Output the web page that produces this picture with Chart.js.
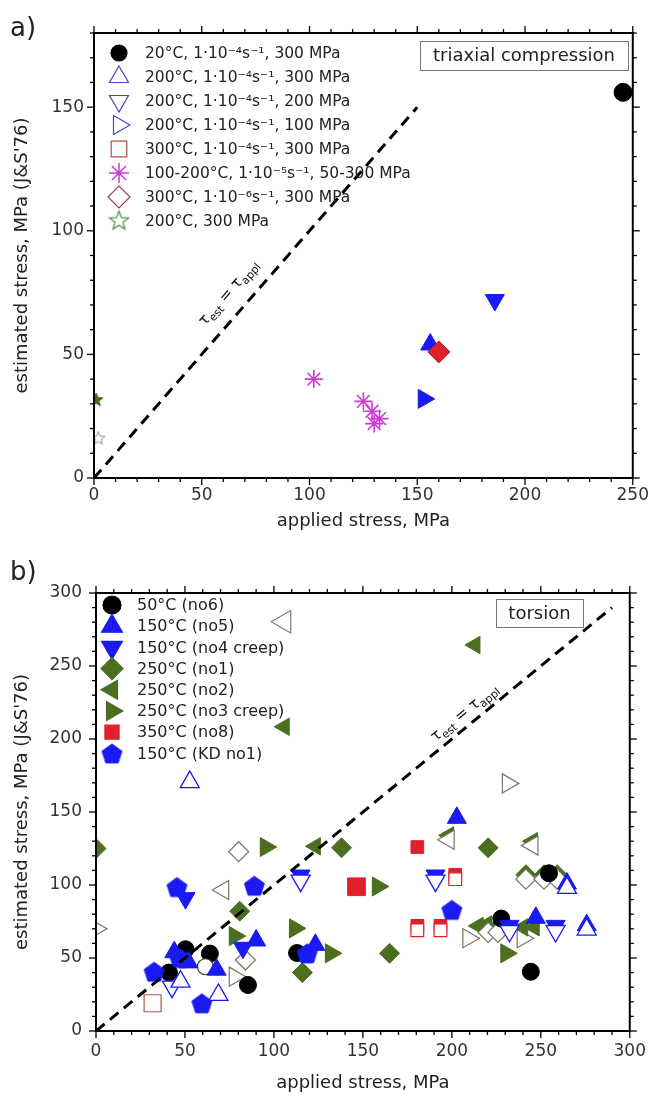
<!DOCTYPE html>
<html><head><meta charset="utf-8">
<script src="https://cdn.jsdelivr.net/npm/chart.js@4.4.1/dist/chart.umd.min.js"></script>
<style>
html,body{margin:0;padding:0;background:#fff;}
#wrap{position:relative;width:656px;height:1099px;background:#fff;}
canvas{position:absolute;left:0;}
</style></head><body>
<div id="wrap">
<canvas id="ca" width="656" height="550" style="top:0"></canvas>
<canvas id="cb" width="656" height="549" style="top:550px"></canvas>
</div>
<script>
// ---------------- DATA: panel a) triaxial compression ----------------
const aCircle20     = [[245.5,156]];
const aTriUp200     = [[156,54]];
const aTriDown200   = [[186,72]];
const aTriRight200  = [[153,32]];
const aDiamond300   = [[160,51]];
const aAsterisk     = [[102,40],[125,31],[129,27],[132.5,24],[130,22]];
const aStarFilled   = [[1,31.5]];
const aStarOpen     = [[2,16]];
const aIdentity     = [0,150];
const aLegendLabels = [
  '20°C, 1·10⁻⁴s⁻¹, 300 MPa',
  '200°C, 1·10⁻⁴s⁻¹, 300 MPa',
  '200°C, 1·10⁻⁴s⁻¹, 200 MPa',
  '200°C, 1·10⁻⁴s⁻¹, 100 MPa',
  '300°C, 1·10⁻⁴s⁻¹, 300 MPa',
  '100-200°C, 1·10⁻⁵s⁻¹, 50-300 MPa',
  '300°C, 1·10⁻⁶s⁻¹, 300 MPa',
  '200°C, 300 MPa'
];

// ---------------- DATA: panel b) torsion ----------------
const b50Filled   = [[64,53],[50.3,56],[41,40],[85.4,31.5],[113,53.4],[227.8,77],[244.4,40.6],[254.6,108]];
const b50Open     = [[61.5,44]];
const bNo5Filled  = [[202.8,146],[90,62],[67.8,42],[44,54],[52,47],[123.3,59],[247.2,77.5],[264.7,101],[275.8,72.5]];
const bNo5Open    = [[52.7,170.5],[68.8,24.7],[47.5,33.8],[264.7,98],[275.8,69.5]];
const bNo4Filled  = [[50.3,91],[82.6,57],[115,106.5],[190.8,106.5],[232.4,72],[258.3,72]];
const bNo4Open    = [[42.7,30.4],[115,103],[190.8,103],[232.4,68.5],[258.3,68.5]];
const bNo1Filled  = [[0,125],[80.8,82],[138,125.5],[220.4,125.5],[116,40],[165,53.2],[241.6,107],[251.8,107],[259.2,107],[220.4,70.5],[225.9,70.5]];
const bNo1Open    = [[80.2,122.8],[84,48.6],[241.6,104],[251.8,104],[259.2,104],[220.4,67.5],[225.9,67.5]];
const bNo2Filled  = [[105.8,208.4],[213,264.4],[123.3,126.5],[198.2,134],[245.3,130],[214.8,72],[219.5,73],[239.8,71],[246.3,71]];
const bNo2OpenBig = [[105.8,280.3]];
const bNo2Open    = [[71.5,96.6],[198.2,131],[245.3,127]];
const bNo3Filled  = [[95.4,126],[78,65],[111.8,70.3],[158.4,99],[132,53.2],[230.6,53.2]];
const bNo3Open    = [[231.5,169.6],[0,70],[78,37.2],[209.3,63.5],[239.8,63.5]];
const bNo8Big     = [[146.4,98.8]];
const bNo8Filled  = [[180.6,126],[201.9,107],[180.6,72],[193.6,72]];
const bNo8OpenBig = [[31.8,19]];
const bNo8Open    = [[201.9,104],[180.6,69],[193.6,69]];
const bKDFilled   = [[45.5,98.6],[89,99.5],[200,83],[32.7,40.6],[59.5,19],[118.7,53.2],[47,50]];
const bIdentity   = [0,290];
const bLegendLabels = ['50°C (no6)','150°C (no5)','150°C (no4 creep)','250°C (no1)','250°C (no2)','250°C (no3 creep)','350°C (no8)','150°C (KD no1)'];

const X_TITLE = 'applied stress, MPa';
const Y_TITLE = "estimated stress, MPa (J&S'76)";

// ---------------- STYLE ----------------
const FONT = "'DejaVu Sans', Verdana, sans-serif";
const BLUE = '#1a1af2', OLIVE = '#4b6e1f', RED = '#e0202a', MAG = '#cc3ad8';
const pts = a => a.map(p => ({x: p[0], y: p[1]}));
const line2 = r => [{x: r[0], y: r[0]}, {x: r[1], y: r[1]}];

function makeStar(r, fill, stroke, lw) {
  const s = Math.ceil(2 * r + 2 * lw + 2);
  const c = document.createElement('canvas'); c.width = c.height = s;
  const g = c.getContext('2d'); g.translate(s / 2, s / 2);
  g.beginPath();
  for (let i = 0; i < 10; i++) {
    const rr = i % 2 ? r * 0.42 : r, a = -Math.PI / 2 + i * Math.PI / 5;
    g.lineTo(rr * Math.cos(a), rr * Math.sin(a));
  }
  g.closePath(); g.fillStyle = fill; g.fill(); g.lineWidth = lw; g.strokeStyle = stroke; g.stroke();
  return c;
}
function makePentagon(r, fill, stroke, lw) {
  const s = Math.ceil(2 * r + 2 * lw + 2);
  const c = document.createElement('canvas'); c.width = c.height = s;
  const g = c.getContext('2d'); g.translate(s / 2, s / 2 + 1);
  g.beginPath();
  for (let i = 0; i < 5; i++) {
    const a = -Math.PI / 2 + i * 2 * Math.PI / 5;
    g.lineTo(r * Math.cos(a), r * Math.sin(a));
  }
  g.closePath(); g.fillStyle = fill; g.fill(); g.lineWidth = lw; g.strokeStyle = stroke; g.stroke();
  return c;
}

function mk(data, style, r, fill, stroke, bw, rot) {
  return {type: 'scatter', data: pts(data), pointStyle: style, pointRadius: r, pointHoverRadius: r,
    pointBackgroundColor: fill, pointBorderColor: stroke, pointBorderWidth: bw, pointRotation: rot || 0,
    clip: 0, showLine: false};
}
function identityDs(r) {
  return {type: 'line', data: line2(r), borderColor: '#000', borderWidth: 3, borderDash: [11, 7],
    pointRadius: 0, fill: false, clip: 0};
}
function ordered(list) { list.forEach((d, i) => d.order = -i); return list; }

function scales(xMax, yMax, yW, xH, xTitlePad, yTitlePad, yPad, xPad) {
  const tickFont = {family: FONT, size: 17};
  const titleFont = {family: FONT, size: 18};
  return {
    x: {type: 'linear', min: 0, max: xMax, grid: {display: false, drawTicks: false}, border: {display: false},
      ticks: {stepSize: 50, includeBounds: false, padding: xPad, color: '#333', font: tickFont, maxRotation: 0, autoSkip: false},
      title: {display: true, text: X_TITLE, color: '#222', font: titleFont, padding: {top: xTitlePad, bottom: xTitlePad}},
      afterFit(s) { s.height = xH; }},
    y: {type: 'linear', min: 0, max: yMax, grid: {display: false, drawTicks: false}, border: {display: false},
      ticks: {stepSize: 50, includeBounds: false, padding: yPad, color: '#333', font: tickFont, autoSkip: false},
      title: {display: true, text: Y_TITLE, color: '#222', font: titleFont, padding: {top: yTitlePad, bottom: yTitlePad}},
      afterFit(s) { s.width = yW; }}
  };
}

function drawTau(ctx, cx, cy, ang, size) {
  const big = size + 'px ' + FONT, small = Math.round(size * 0.72) + 'px ' + FONT;
  const parts = [['τ', big, 0], ['est', small, size * 0.32], [' = ', big, 0], ['τ', big, 0], ['appl', small, size * 0.32]];
  ctx.save(); ctx.translate(cx, cy); ctx.rotate(ang);
  let w = 0;
  parts.forEach(p => { ctx.font = p[1]; p.w = ctx.measureText(p[0]).width; w += p.w; });
  let x = -w / 2; ctx.fillStyle = '#111'; ctx.textBaseline = 'middle';
  parts.forEach(p => { ctx.font = p[1]; ctx.fillText(p[0], x, p[2]); x += p.w; });
  ctx.restore();
}

function decor(cfg) {
  return {
    id: 'decor',
    afterDraw(chart) {
      const {ctx, chartArea: ca} = chart; const xs = chart.scales.x, ys = chart.scales.y;
      ctx.save();
      // identity label
      const a = Math.atan2(ys.getPixelForValue(1) - ys.getPixelForValue(0), xs.getPixelForValue(1) - xs.getPixelForValue(0));
      const px = xs.getPixelForValue(cfg.tauAt), py = ys.getPixelForValue(cfg.tauAt);
      drawTau(ctx, px + Math.sin(a) * cfg.tauOff, py - Math.cos(a) * cfg.tauOff, a, 15.5);
      // frame + ticks
      ctx.strokeStyle = '#000'; ctx.lineWidth = 2;
      ctx.strokeRect(ca.left, ca.top, ca.right - ca.left, ca.bottom - ca.top);
      ctx.lineWidth = 1.3;
      const seg = (x1, y1, x2, y2) => { ctx.beginPath(); ctx.moveTo(x1, y1); ctx.lineTo(x2, y2); ctx.stroke(); };
      for (let v = xs.min; v <= xs.max + 1e-6; v += 10) {
        const p = xs.getPixelForValue(v), L = (Math.abs(v % 50) < 1e-6) ? 7 : 4;
        seg(p, ca.bottom, p, ca.bottom + L); seg(p, ca.top, p, ca.top - L);
      }
      for (let v = ys.min; v <= ys.max + 1e-6; v += 10) {
        const p = ys.getPixelForValue(v), L = (Math.abs(v % 50) < 1e-6) ? 7 : 4;
        seg(ca.left, p, ca.left - L, p); seg(ca.right, p, ca.right + L, p);
      }
      // legend
      const H = Chart.helpers;
      ctx.textBaseline = 'middle'; ctx.textAlign = 'left';
      cfg.legend.forEach((it, i) => {
        const y = cfg.legY + i * cfg.legDy;
        ctx.save();
        ctx.fillStyle = it.fill; ctx.strokeStyle = it.stroke; ctx.lineWidth = it.bw || 1.2;
        H.drawPoint(ctx, {pointStyle: it.style, rotation: it.rot || 0, radius: it.r, borderWidth: it.bw || 1.2}, cfg.legX, y);
        ctx.restore();
        ctx.fillStyle = '#222'; ctx.font = cfg.legFont + 'px ' + FONT;
        ctx.fillText(cfg.labels[i], cfg.legTx, y + 1);
      });
      // box label
      const b = cfg.box;
      ctx.font = '18px ' + FONT; ctx.textAlign = 'center';
      ctx.fillStyle = '#fff'; ctx.fillRect(b.x, b.y, b.w, b.h);
      ctx.strokeStyle = '#777'; ctx.lineWidth = 1; ctx.strokeRect(b.x + 0.5, b.y + 0.5, b.w, b.h);
      ctx.fillStyle = '#222'; ctx.fillText(b.text, b.x + b.w / 2, b.y + b.h / 2 + 1);
      // panel letter
      ctx.textAlign = 'left'; ctx.textBaseline = 'alphabetic'; ctx.font = '26px ' + FONT; ctx.fillStyle = '#222';
      ctx.fillText(cfg.panel, cfg.panelX, cfg.panelY);
      ctx.restore();
    }
  };
}

const common = {responsive: false, animation: false, devicePixelRatio: 1,
  plugins: {legend: {display: false}, tooltip: {enabled: false}}};

// ---------------- CHART a ----------------
const aStarImgF = makeStar(7, OLIVE, '#3c5a18', 1);
const aStarImgO = makeStar(7, '#fff', '#8a968a', 1);
const aStarLeg  = makeStar(10, '#fff', '#4c8a4c', 1.2);
new Chart(document.getElementById('ca'), {
  type: 'scatter',
  data: {datasets: ordered([
    mk(aAsterisk, 'star', 9, MAG, MAG, 1.6),
    mk(aTriRight200, 'triangle', 11, BLUE, BLUE, 1, 90),
    mk(aTriUp200, 'triangle', 11, BLUE, BLUE, 1, 0),
    mk(aDiamond300, 'rectRot', 11, RED, '#b01818', 1),
    mk(aTriDown200, 'triangle', 11, BLUE, BLUE, 1, 180),
    mk(aCircle20, 'circle', 9, '#000', '#000', 1),
    mk(aStarFilled, aStarImgF, 7, OLIVE, OLIVE, 1),
    mk(aStarOpen, aStarImgO, 7, '#fff', '#888', 1),
    identityDs(aIdentity)
  ])},
  options: Object.assign({}, common, {
    layout: {padding: {top: 33, right: 19, left: 0, bottom: 0}},
    scales: scales(250, 180, 94, 72, 18, 12, 10, 7)
  }),
  plugins: [decor({
    tauAt: 69.5, tauOff: 20, legend: [
      {style: 'circle', r: 8, fill: '#000', stroke: '#000'},
      {style: 'triangle', r: 11, fill: '#fff', stroke: '#4848c8'},
      {style: 'triangle', r: 11, fill: '#fff', stroke: '#4848c8', rot: 180},
      {style: 'triangle', r: 11, fill: '#fff', stroke: '#4848c8', rot: 90},
      {style: 'rect', r: 11, fill: '#fff', stroke: '#b84a4a'},
      {style: 'star', r: 10, fill: MAG, stroke: MAG, bw: 1.5},
      {style: 'rectRot', r: 11, fill: '#fff', stroke: '#9a4444'},
      {style: aStarLeg, r: 10, fill: '#fff', stroke: '#4c8a4c'}
    ], labels: aLegendLabels, legX: 119, legTx: 145, legY: 53, legDy: 24, legFont: 15.5,
    box: {x: 420, y: 41, w: 208, h: 29, text: 'triaxial compression'},
    panel: 'a)', panelX: 10, panelY: 36
  })]
});

// ---------------- CHART b ----------------
const bPent = makePentagon(10.5, BLUE, BLUE, 1);
const bPentLeg = makePentagon(10.5, BLUE, BLUE, 1);
const GREY = '#7d7d7d', GOLIVE = '#6e7a62';
new Chart(document.getElementById('cb'), {
  type: 'scatter',
  data: {datasets: ordered([
    mk(bNo2OpenBig, 'triangle', 13, '#fff', GREY, 1.2, 270),
    mk(bNo3Open, 'triangle', 11, '#fff', GOLIVE, 1.2, 90),
    mk(bNo1Filled, 'rectRot', 10, OLIVE, OLIVE, 1),
    mk(bNo3Filled, 'triangle', 11, OLIVE, OLIVE, 1, 90),
    mk(bNo2Filled, 'triangle', 10, OLIVE, OLIVE, 1, 270),
    mk(bNo1Open, 'rectRot', 10, '#fff', GOLIVE, 1.2),
    mk(bNo2Open, 'triangle', 11, '#fff', GOLIVE, 1.2, 270),
    mk(bNo8Big, 'rect', 12.5, RED, RED, 1),
    mk(bNo8Filled, 'rect', 9, RED, RED, 1),
    mk(bNo8OpenBig, 'rect', 12, '#fff', '#c05050', 1.2),
    mk(bNo8Open, 'rect', 9, '#fff', RED, 1.2),
    mk(b50Filled, 'circle', 8.5, '#000', '#000', 1),
    mk(b50Open, 'circle', 8, '#fff', '#333', 1.2),
    mk(bKDFilled, bPent, 10.5, BLUE, BLUE, 1),
    mk(bNo4Filled, 'triangle', 11, BLUE, BLUE, 1, 180),
    mk(bNo4Open, 'triangle', 11, '#fff', BLUE, 1.3, 180),
    mk(bNo5Filled, 'triangle', 11, BLUE, BLUE, 1, 0),
    mk(bNo5Open, 'triangle', 11, '#fff', BLUE, 1.3, 0),
    identityDs(bIdentity)
  ])},
  options: Object.assign({}, common, {
    layout: {padding: {top: 43, right: 19, left: 0, bottom: 0}},
    scales: scales(300, 300, 96, 68, 5, 12, 14, 10)
  }),
  plugins: [decor({
    tauAt: 211.5, tauOff: 12, legend: [
      {style: 'circle', r: 9, fill: '#000', stroke: '#000'},
      {style: 'triangle', r: 12, fill: BLUE, stroke: BLUE},
      {style: 'triangle', r: 12, fill: BLUE, stroke: BLUE, rot: 180},
      {style: 'rectRot', r: 11, fill: OLIVE, stroke: OLIVE},
      {style: 'triangle', r: 11, fill: OLIVE, stroke: OLIVE, rot: 270},
      {style: 'triangle', r: 11, fill: OLIVE, stroke: OLIVE, rot: 90},
      {style: 'rect', r: 10, fill: RED, stroke: RED},
      {style: bPentLeg, r: 10, fill: BLUE, stroke: BLUE}
    ], labels: bLegendLabels, legX: 112, legTx: 137, legY: 55, legDy: 21.2, legFont: 16,
    box: {x: 496, y: 49, w: 87, h: 28, text: 'torsion'},
    panel: 'b)', panelX: 10, panelY: 30
  })]
});
</script>
</body></html>
